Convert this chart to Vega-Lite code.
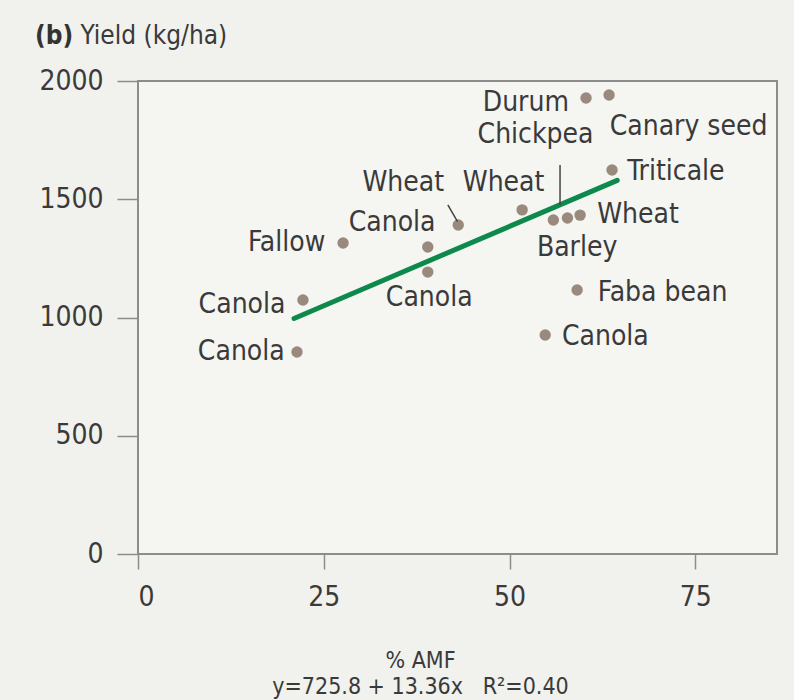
{
  "$schema": "https://vega.github.io/schema/vega-lite/v6.json",
  "width": 639,
  "height": 473,
  "autosize": {"type": "none"},
  "padding": {"left": 138, "top": 81, "right": 17, "bottom": 146},
  "background": "#f1f1ed",
  "config": {
    "view": {"stroke": "#8c8c8c", "strokeWidth": 2, "fill": "#f5f5f2"},
    "font": "DejaVu Sans Condensed, Liberation Sans, sans-serif"
  },
  "title": {
    "text": "(b)",
    "anchor": "start",
    "frame": "group",
    "fontSize": 26,
    "fontWeight": "bold",
    "color": "#333333",
    "baseline": "bottom",
    "dx": -103,
    "offset": 0,
    "dy": 53,
    "font": "DejaVu Sans Condensed, Liberation Sans, sans-serif"
  },
  "datasets": {
    "points": [
      {"crop": "Canola", "AMF": 21.4, "Yield": 854},
      {"crop": "Canola", "AMF": 22.2, "Yield": 1074},
      {"crop": "Fallow", "AMF": 27.6, "Yield": 1315},
      {"crop": "Canola", "AMF": 39.0, "Yield": 1298},
      {"crop": "Canola", "AMF": 39.0, "Yield": 1192},
      {"crop": "Wheat", "AMF": 43.1, "Yield": 1391},
      {"crop": "Wheat", "AMF": 51.7, "Yield": 1455},
      {"crop": "Barley", "AMF": 55.9, "Yield": 1412},
      {"crop": "Chickpea", "AMF": 57.8, "Yield": 1421},
      {"crop": "Wheat", "AMF": 59.5, "Yield": 1433},
      {"crop": "Triticale", "AMF": 63.8, "Yield": 1624},
      {"crop": "Durum", "AMF": 60.3, "Yield": 1928},
      {"crop": "Canary seed", "AMF": 63.4, "Yield": 1941},
      {"crop": "Faba bean", "AMF": 59.1, "Yield": 1116},
      {"crop": "Canola", "AMF": 54.8, "Yield": 926}
    ],
    "fit": [
      {"AMF": 21.0, "Yield": 996},
      {"AMF": 64.5, "Yield": 1580}
    ],
    "leaders": [
      {"x1": 56.8, "y1": 1645, "x2": 56.8, "y2": 1476},
      {"x1": 41.7, "y1": 1476, "x2": 43.0, "y2": 1405}
    ],
    "labels": [
      {"label": "Durum", "lx": 52.2, "ly": 1907},
      {"label": "Chickpea", "lx": 53.5, "ly": 1772},
      {"label": "Canary seed", "lx": 74.1, "ly": 1805},
      {"label": "Triticale", "lx": 72.4, "ly": 1615},
      {"label": "Wheat", "lx": 49.2, "ly": 1569},
      {"label": "Wheat", "lx": 35.7, "ly": 1569},
      {"label": "Canola", "lx": 34.2, "ly": 1400},
      {"label": "Fallow", "lx": 20.0, "ly": 1315},
      {"label": "Wheat", "lx": 67.3, "ly": 1433},
      {"label": "Barley", "lx": 59.1, "ly": 1294},
      {"label": "Canola", "lx": 39.2, "ly": 1082},
      {"label": "Faba bean", "lx": 70.6, "ly": 1104},
      {"label": "Canola", "lx": 62.9, "ly": 918},
      {"label": "Canola", "lx": 14.0, "ly": 1053},
      {"label": "Canola", "lx": 13.9, "ly": 854}
    ]
  },
  "layer": [
    {
      "data": {"name": "points"},
      "mark": {"type": "circle", "size": 130, "color": "#9a8a7d", "opacity": 1},
      "encoding": {
        "x": {
          "field": "AMF", "type": "quantitative",
          "scale": {"domain": [0, 86], "nice": false, "zero": false},
          "axis": {
            "values": [0, 25, 50, 75],
            "format": "d",
            "grid": false,
            "domain": false,
            "tickSize": 15,
            "tickColor": "#8c8c8c",
            "tickWidth": 1.5,
            "labelPadding": 14,
            "labelFontSize": 28,
            "labelColor": "#3a3a3a",
            "title": ["% AMF", "y=725.8 + 13.36x\u00a0\u00a0\u00a0R\u00b2=0.40"],
            "titleFontSize": 23,
            "titleFontWeight": "normal",
            "titleColor": "#3a3a3a",
            "titleLineHeight": 26,
            "titleBaseline": "top",
            "titleX": 282,
            "titleY": 95
          }
        },
        "y": {
          "field": "Yield", "type": "quantitative",
          "scale": {"domain": [0, 2000], "nice": false},
          "axis": {
            "values": [0, 500, 1000, 1500, 2000],
            "format": "d",
            "grid": false,
            "domain": false,
            "tickSize": 21,
            "tickColor": "#8c8c8c",
            "tickWidth": 1.5,
            "labelPadding": 14,
            "labelFontSize": 28,
            "labelColor": "#3a3a3a",
            "title": "Yield (kg/ha)",
            "titleAngle": 0,
            "titleAlign": "left",
            "titleBaseline": "middle",
            "titleX": -58,
            "titleY": -46,
            "titleFontSize": 26,
            "titleFontWeight": "normal",
            "titleColor": "#3a3a3a"
          }
        }
      }
    },
    {
      "data": {"name": "fit"},
      "mark": {"type": "line", "color": "#0d8a4b", "strokeWidth": 5, "strokeCap": "round"},
      "encoding": {
        "x": {"field": "AMF", "type": "quantitative"},
        "y": {"field": "Yield", "type": "quantitative"}
      }
    },
    {
      "data": {"name": "leaders"},
      "mark": {"type": "rule", "color": "#444444", "strokeWidth": 1.5},
      "encoding": {
        "x": {"field": "x1", "type": "quantitative"},
        "y": {"field": "y1", "type": "quantitative"},
        "x2": {"field": "x2"},
        "y2": {"field": "y2"}
      }
    },
    {
      "data": {"name": "labels"},
      "mark": {"type": "text", "fontSize": 28, "color": "#3a3a3a", "align": "center", "baseline": "middle"},
      "encoding": {
        "x": {"field": "lx", "type": "quantitative"},
        "y": {"field": "ly", "type": "quantitative"},
        "text": {"field": "label"}
      }
    }
  ]
}
